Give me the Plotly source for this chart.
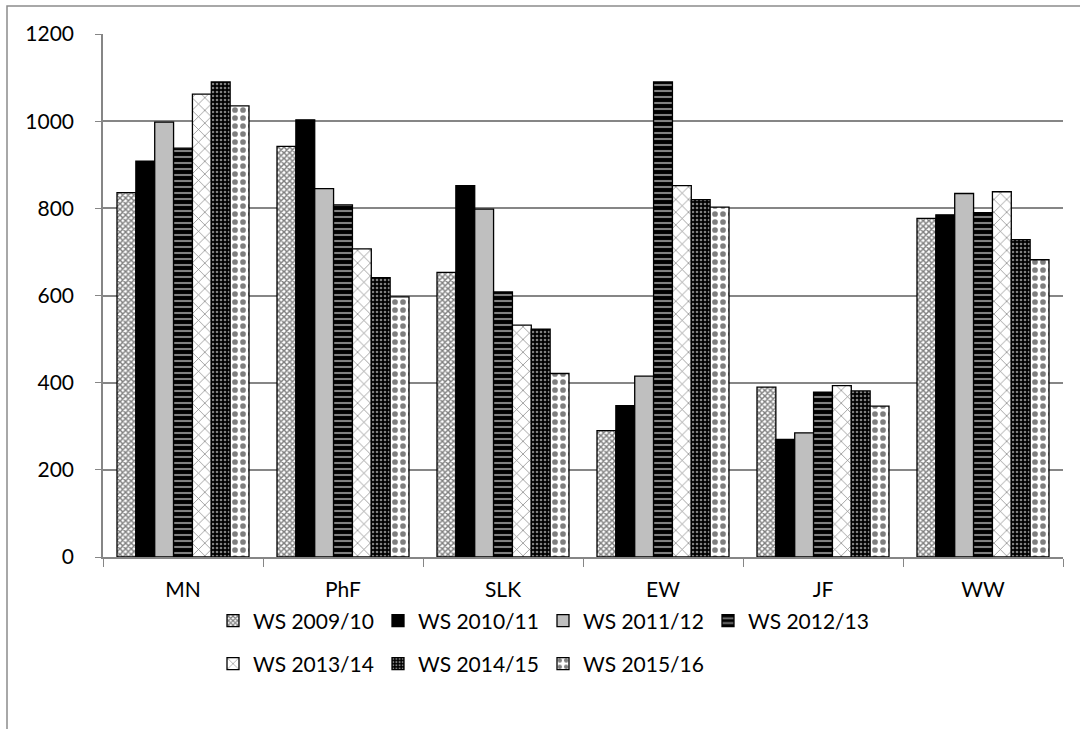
import plotly.graph_objects as go

categories = ["MN", "PhF", "SLK", "EW", "JF", "WW"]
series_names = ["WS 2009/10", "WS 2010/11", "WS 2011/12", "WS 2012/13",
                "WS 2013/14", "WS 2014/15", "WS 2015/16"]
ws_2009 = [836, 942, 653, 290, 390, 777]
ws_2010 = [908, 1003, 852, 347, 270, 785]
ws_2011 = [998, 845, 798, 415, 285, 834]
ws_2012 = [938, 808, 608, 1090, 378, 790]
ws_2013 = [1062, 707, 532, 852, 393, 838]
ws_2014 = [1090, 641, 523, 820, 381, 728]
ws_2015 = [1035, 597, 421, 803, 346, 682]
y_ticks = [0, 200, 400, 600, 800, 1000, 1200]

values = [ws_2009, ws_2010, ws_2011, ws_2012, ws_2013, ws_2014, ws_2015]

styles = [
    dict(color="white", pattern=dict(shape="x", size=4, solidity=0.6, fgcolor="black", bgcolor="white")),
    dict(color="black", pattern=None),
    dict(color="#BFBFBF", pattern=None),
    dict(color="black", pattern=dict(shape="-", size=6, solidity=0.35, fgcolor="white", bgcolor="black")),
    dict(color="white", pattern=dict(shape="x", size=9, solidity=0.15, fgcolor="black", bgcolor="white")),
    dict(color="black", pattern=dict(shape=".", size=4, solidity=0.35, fgcolor="white", bgcolor="black")),
    dict(color="white", pattern=dict(shape=".", size=8, solidity=0.4, fgcolor="black", bgcolor="white")),
]

FONT = "Lato"
fig = go.Figure()
for i, (name, vals, st) in enumerate(zip(series_names, values, styles)):
    marker = dict(color=st["color"], line=dict(color="black", width=1.3))
    if st["pattern"]:
        marker["pattern"] = st["pattern"]
    fig.add_trace(go.Bar(
        x=categories, y=vals, name=name, marker=marker,
        legend="legend" if i < 4 else "legend2",
    ))

L, R, T, B = 103, 17, 34, 172
W, H = 1080, 729
pw, ph = W - L - R, H - T - B

def px_x(p):
    return (p - L) / pw

def px_y(p):
    return (H - B - p) / ph

legend_common = dict(
    orientation="h", xanchor="left", yanchor="middle",
    font=dict(family=FONT, size=21, color="black"),
    entrywidth=120, entrywidthmode="pixels",
    bgcolor="rgba(0,0,0,0)", itemclick=False, itemdoubleclick=False,
    traceorder="normal",
)

fig.update_layout(
    width=W, height=H,
    margin=dict(l=L, r=R, t=T, b=B, pad=0),
    paper_bgcolor="white", plot_bgcolor="white",
    barmode="group", bargap=0.175, bargroupgap=0,
    font=dict(family=FONT, size=21, color="black"),
    legend=dict(x=px_x(213), y=px_y(621), **legend_common),
    legend2=dict(x=px_x(213), y=px_y(664), **legend_common),
    xaxis=dict(
        showline=True, linecolor="#868686", linewidth=1.5,
        ticks="outside", tickson="boundaries", ticklen=8, tickcolor="#868686",
        tickfont=dict(family=FONT, size=21, color="black"),
        ticklabelstandoff=13,
        showgrid=False,
    ),
    yaxis=dict(
        range=[0, 1200], tickvals=y_ticks,
        showline=True, linecolor="#868686", linewidth=1.5,
        ticks="outside", ticklen=6, tickcolor="#868686",
        showgrid=True, gridcolor="#868686", gridwidth=1.5,
        tickfont=dict(family=FONT, size=21, color="black"),
        ticklabelstandoff=17,
        zeroline=False,
    ),
    shapes=[dict(
        type="rect", xref="paper", yref="paper",
        x0=px_x(7), x1=px_x(1100), y0=px_y(760), y1=px_y(6),
        line=dict(color="#8C8C8C", width=1.5), fillcolor="rgba(0,0,0,0)", layer="below",
    )],
)

fig.write_html("out.html")
